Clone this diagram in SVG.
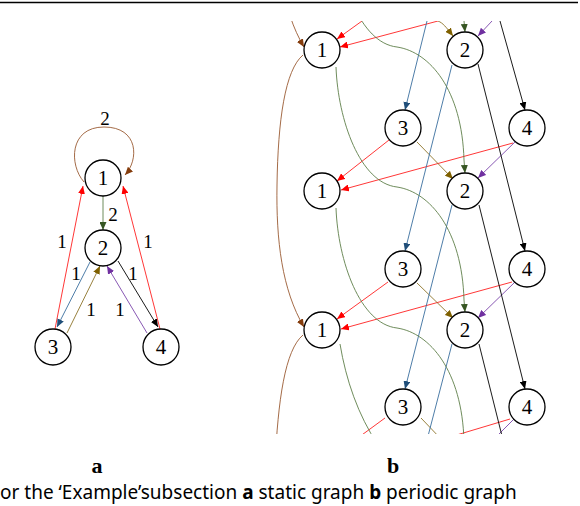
<svg xmlns="http://www.w3.org/2000/svg" width="580" height="506" viewBox="0 0 580 506">
<style>
.n{fill:#fff;stroke:#000;stroke-width:1.3}
.t{font-family:"Liberation Serif",serif;font-size:21px;fill:#000;text-anchor:middle;dominant-baseline:central}
.tl{font-family:"Liberation Serif",serif;font-size:19px;fill:#000;text-anchor:middle;dominant-baseline:central}
.e{fill:none;stroke-width:0.9}
.red{stroke:#ff2020;marker-end:url(#mr)}
.brn{stroke:#9a5a32;marker-end:url(#mbr)}
.grn{stroke:#5f7f4a;marker-end:url(#mg)}
.blu{stroke:#3a6e9e;marker-end:url(#mb)}
.gld{stroke:#8c7328;marker-end:url(#my)}
.blk{stroke:#000;marker-end:url(#mk)}
.pur{stroke:#7a45aa;marker-end:url(#mp)}
.nm{marker-end:none}
.cap{font-family:"Noto Sans",sans-serif;font-size:19px;fill:#000}
.lab{font-family:"Liberation Serif",serif;font-size:22px;font-weight:bold;fill:#000;text-anchor:middle}
</style>
<defs>
<marker id="mr" markerUnits="userSpaceOnUse" markerWidth="9" markerHeight="7" refX="8" refY="3.5" orient="auto"><path d="M0,0L8,3.5L0,7z" fill="#ff0000"/></marker>
<marker id="mbr" markerUnits="userSpaceOnUse" markerWidth="9" markerHeight="7" refX="8" refY="3.5" orient="auto"><path d="M0,0L8,3.5L0,7z" fill="#843c0c"/></marker>
<marker id="mg" markerUnits="userSpaceOnUse" markerWidth="9" markerHeight="7" refX="8" refY="3.5" orient="auto"><path d="M0,0L8,3.5L0,7z" fill="#375623"/></marker>
<marker id="mb" markerUnits="userSpaceOnUse" markerWidth="9" markerHeight="7" refX="8" refY="3.5" orient="auto"><path d="M0,0L8,3.5L0,7z" fill="#1f4e79"/></marker>
<marker id="my" markerUnits="userSpaceOnUse" markerWidth="9" markerHeight="7" refX="8" refY="3.5" orient="auto"><path d="M0,0L8,3.5L0,7z" fill="#7f6000"/></marker>
<marker id="mk" markerUnits="userSpaceOnUse" markerWidth="9" markerHeight="7" refX="8" refY="3.5" orient="auto"><path d="M0,0L8,3.5L0,7z" fill="#000"/></marker>
<marker id="mp" markerUnits="userSpaceOnUse" markerWidth="9" markerHeight="7" refX="8" refY="3.5" orient="auto"><path d="M0,0L8,3.5L0,7z" fill="#7030a0"/></marker>
<clipPath id="clipR"><rect x="272" y="21" width="308" height="413"/></clipPath>
</defs>
<line x1="0" y1="2.5" x2="578" y2="2.5" stroke="#000" stroke-width="1.5"/>

<g id="connectors-a">
<path class="e brn" d="M84,182 C69,165 69,127 104,127 C139,127 139,160 125,175"/>
<path class="e grn" d="M103,196 L103,230"/>
<path class="e red" d="M55,329 L83,186"/>
<path class="e red" d="M160,329 L123,186"/>
<path class="e blu" d="M90,262 L57,327"/>
<path class="e gld" d="M67,333 L100,266"/>
<path class="e blk" d="M118,261 L158,327"/>
<path class="e pur" d="M147,333 L107,266"/>
</g>
<g id="labels-a">
<text class="tl" x="105" y="118">2</text>
<text class="tl" x="113" y="214">2</text>
<text class="tl" x="62" y="241">1</text>
<text class="tl" x="148" y="241">1</text>
<text class="tl" x="76" y="273">1</text>
<text class="tl" x="133" y="273">1</text>
<text class="tl" x="91" y="309">1</text>
<text class="tl" x="120" y="309">1</text>
</g>
<g id="a1"><circle class="n" cx="103" cy="178" r="18"/><text class="t" x="103" y="178">1</text></g>
<g id="a2"><circle class="n" cx="103" cy="248" r="18"/><text class="t" x="103" y="248">2</text></g>
<g id="a3"><circle class="n" cx="53" cy="347" r="18"/><text class="t" x="53" y="347">3</text></g>
<g id="a4"><circle class="n" cx="161" cy="347" r="18"/><text class="t" x="161" y="347">4</text></g>

<g id="connectors-b" clip-path="url(#clipR)">
<path class="e red" d="M362,21 L337,39"/>
<path class="e red" d="M438,21 L340,47"/>
<path class="e red" d="M389,140 L337,181"/>
<path class="e red" d="M513,143 L341,190"/>
<path class="e red" d="M388,282 L337,319"/>
<path class="e red" d="M512,282 L341,329"/>
<path class="e red nm" d="M385,418 L355,440"/>
<path class="e red nm" d="M510,419 L440,440"/>
<path class="e gld" d="M438,21 C443,23 446,27 453,36"/>
<path class="e gld" d="M417,142 L453,179"/>
<path class="e gld" d="M417,283 L453,318"/>
<path class="e gld nm" d="M421,418 L442,440"/>
<path class="e pur" d="M492,21 L478,36"/>
<path class="e pur" d="M516,141 L478,178"/>
<path class="e pur" d="M515,282 L478,318"/>
<path class="e pur nm" d="M514,419 L493,440"/>
<path class="e blu" d="M427,21 L405,110"/>
<path class="e blu" d="M452,65 L405,251"/>
<path class="e blu" d="M452,205 L405,389"/>
<path class="e blu nm" d="M452,344 L427,440"/>
<path class="e blk" d="M500,21 L525,110"/>
<path class="e blk" d="M478,64 L525,251"/>
<path class="e blk" d="M479,205 L525,389"/>
<path class="e blk nm" d="M479,344 L503,440"/>
<path class="e grn" d="M464,21 L465,32"/>
<path class="e grn" d="M336,-73 C338,-20 360,43 397,47 C430,52 462,90 464,160 L465,173"/>
<path class="e grn" d="M336,67 C338,120 360,183 397,187 C430,192 462,230 464,300 L465,312"/>
<path class="e grn nm" d="M336,208 C338,261 360,324 397,328 C430,333 462,371 464,441"/>
<path class="e grn nm" d="M340,344 C346,380 358,415 378,445"/>
<path class="e brn" d="M277,-95 C276,-40 282,10 304,47"/>
<path class="e brn" d="M303,55 C285,70 278,120 277,185 C276,240 282,290 304,327"/>
<path class="e brn nm" d="M303,335 C285,350 278,400 275,465"/>
</g>

<g id="b1a"><circle class="n" cx="322" cy="50" r="18"/><text class="t" x="322" y="50">1</text></g>
<g id="b2a"><circle class="n" cx="465" cy="50" r="18"/><text class="t" x="465" y="50">2</text></g>
<g id="b3a"><circle class="n" cx="403" cy="128" r="18"/><text class="t" x="403" y="128">3</text></g>
<g id="b4a"><circle class="n" cx="527" cy="128" r="18"/><text class="t" x="527" y="128">4</text></g>
<g id="b1b"><circle class="n" cx="322" cy="191" r="18"/><text class="t" x="322" y="191">1</text></g>
<g id="b2b"><circle class="n" cx="465" cy="191" r="18"/><text class="t" x="465" y="191">2</text></g>
<g id="b3b"><circle class="n" cx="403" cy="269" r="18"/><text class="t" x="403" y="269">3</text></g>
<g id="b4b"><circle class="n" cx="527" cy="269" r="18"/><text class="t" x="527" y="269">4</text></g>
<g id="b1c"><circle class="n" cx="322" cy="330" r="18"/><text class="t" x="322" y="330">1</text></g>
<g id="b2c"><circle class="n" cx="465" cy="330" r="18"/><text class="t" x="465" y="330">2</text></g>
<g id="b3c"><circle class="n" cx="403" cy="407" r="18"/><text class="t" x="403" y="407">3</text></g>
<g id="b4c"><circle class="n" cx="527" cy="407" r="18"/><text class="t" x="527" y="407">4</text></g>

<text class="lab" x="97" y="473">a</text>
<text class="lab" x="393" y="473">b</text>
<text class="cap" x="0" y="499">or the ‘Example’subsection <tspan font-weight="bold">a</tspan> static graph <tspan font-weight="bold">b</tspan> periodic graph</text>
</svg>
